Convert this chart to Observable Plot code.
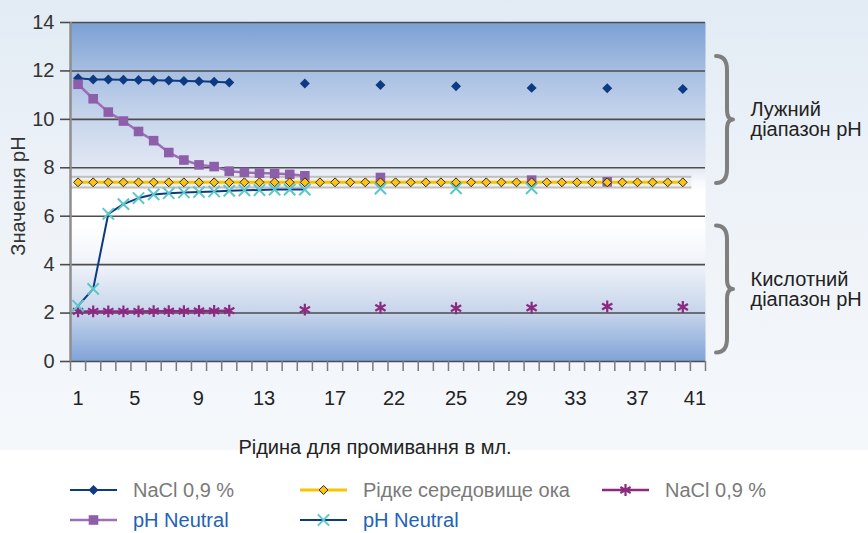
<!DOCTYPE html>
<html>
<head>
<meta charset="utf-8">
<script src="https://cdn.jsdelivr.net/npm/d3@7"></script>
<script src="https://cdn.jsdelivr.net/npm/@observablehq/plot@0.6"></script>
<style>
  html, body { margin: 0; padding: 0; }
  body { width: 868px; height: 533px; overflow: hidden; background: #ffffff; position: relative;
         font-family: "Liberation Sans", Arial, sans-serif; }
  #bg { position: absolute; left: 0; top: 0; width: 868px; height: 450px;
        background: linear-gradient(180deg, #e2ebf4 0%, #edf2f8 40%, #f5f8fb 100%); }
  #chart { position: absolute; left: 0; top: 0; }
  #legend { position: absolute; left: 70px; top: 475px; display: grid;
            grid-template-columns: 230px 302px auto; grid-auto-rows: 30px; }
  .item { display: flex; align-items: center; font-size: 20px; }
  .item svg { margin-right: 16px; flex: none; }
</style>
</head>
<body>
<div id="bg"></div>
<div id="chart"></div>
<div id="legend"></div>
<script>
// ---------- data ----------
const categoryCount = 42;
const xLabels  = ["1", "5", "9", "13", "17", "22", "25", "29", "33", "37", "41"];
const xLabelAt = [1, 4.75, 8.95, 13.3, 18, 21.9, 26, 30, 33.9, 38, 41.8];
const yTicks   = [0, 2, 4, 6, 8, 10, 12, 14];

const naclAlkX = [1, 2, 3, 4, 5, 6, 7, 8, 9, 10, 11, 16, 21, 26, 31, 36, 41];
const naclAlkY = [11.7, 11.65, 11.65, 11.64, 11.63, 11.62, 11.6, 11.58, 11.57, 11.55, 11.52, 11.48, 11.42, 11.37, 11.3, 11.28, 11.25];

const eyeX = [1, 2, 3, 4, 5, 6, 7, 8, 9, 10, 11, 12, 13, 14, 15, 16, 17, 18, 19, 20, 21,
              22, 23, 24, 25, 26, 27, 28, 29, 30, 31, 32, 33, 34, 35, 36, 37, 38, 39, 40, 41];
const eyeY = [7.4, 7.4, 7.4, 7.4, 7.4, 7.4, 7.4, 7.4, 7.4, 7.4, 7.4, 7.4, 7.4, 7.4, 7.4, 7.4, 7.4, 7.4, 7.4, 7.4, 7.4,
              7.4, 7.4, 7.4, 7.4, 7.4, 7.4, 7.4, 7.4, 7.4, 7.4, 7.4, 7.4, 7.4, 7.4, 7.4, 7.4, 7.4, 7.4, 7.4, 7.4];
const eyeBand = [7.19, 7.63];

const naclAcidX = [1, 2, 3, 4, 5, 6, 7, 8, 9, 10, 11, 16, 21, 26, 31, 36, 41];
const naclAcidY = [2.07, 2.07, 2.07, 2.07, 2.07, 2.08, 2.08, 2.08, 2.09, 2.09, 2.1, 2.14, 2.22, 2.2, 2.22, 2.27, 2.25];

const phNeutralAlkX = [1, 2, 3, 4, 5, 6, 7, 8, 9, 10, 11, 12, 13, 14, 15, 16, 21, 31, 36];
const phNeutralAlkY = [11.45, 10.85, 10.3, 9.93, 9.5, 9.12, 8.63, 8.32, 8.12, 8.05, 7.86, 7.81, 7.78, 7.76, 7.73, 7.67, 7.6, 7.49, 7.42];

const phNeutralAcidX = [1, 2, 3, 4, 5, 6, 7, 8, 9, 10, 11, 12, 13, 14, 15, 16, 21, 26, 31];
const phNeutralAcidY = [2.3, 3.0, 6.1, 6.5, 6.75, 6.9, 6.95, 6.98, 7.0, 7.02, 7.05, 7.07, 7.08, 7.1, 7.1, 7.1, 7.14, 7.15, 7.15];

const rangeLabels = ["Лужний\nдіапазон pH", "Кислотний\nдіапазон pH"];
const rangeFrom   = [7.35, 0.35];
const rangeTo     = [12.6, 5.6];

const xTitle = "Рідина для промивання в мл.";
const yTitle = "Значення pH";

// ---------- styles ----------
const series = [
  {name: "NaCl 0,9 %", xs: naclAlkX, ys: naclAlkY, line: "#0c3a83", lw: 2, sym: "diamond2", fill: "#0c3a83", mstroke: "none", r: 4.5, text: "#7a7a7a", col: 1, row: 1},
  {name: "Рідке середовище ока", xs: eyeX, ys: eyeY, line: "#f6c700", lw: 3, sym: "diamond2", fill: "#ffc40f", mstroke: "#2b2b2b", r: 4.0, text: "#7a7a7a", col: 2, row: 1},
  {name: "NaCl 0,9 %", xs: naclAcidX, ys: naclAcidY, line: "#8c2a7f", lw: 2.5, sym: "asterisk", fill: "none", mstroke: "#8c2a7f", r: 5.6, text: "#7a7a7a", col: 3, row: 1},
  {name: "pH Neutral", xs: phNeutralAlkX, ys: phNeutralAlkY, line: "#9c6fb6", lw: 2.5, sym: "square2", fill: "#8d5ea9", mstroke: "none", r: 6.1, text: "#1e63b6", col: 1, row: 2},
  {name: "pH Neutral", xs: phNeutralAcidX, ys: phNeutralAcidY, line: "#0c3a83", lw: 2, sym: "times", fill: "none", mstroke: "#5cc7c9", r: 5.2, text: "#1e63b6", col: 2, row: 2}
];
const markerWidth = s => s.sym === "diamond2" ? 1 : (s.sym === "asterisk" ? 2.2 : 2);

function rowsOf(s, k) {
  let seg = 0;
  return s.xs.map((x, i) => {
    if (i > 0 && x - s.xs[i - 1] > 1) seg++;
    return {x, y: s.ys[i], seg: k + "-" + seg};
  });
}
const tables = series.map((s, k) => rowsOf(s, k));

const lineMarks = [1, 0, 2, 3, 4].map(k =>
  Plot.lineY(tables[k], {x: "x", y: "y", z: "seg", stroke: series[k].line, strokeWidth: series[k].lw}));
const dotMarks = [0, 2, 3, 4, 1].map(k =>
  Plot.dot(tables[k], {x: "x", y: "y", symbol: series[k].sym, r: series[k].r,
    fill: series[k].fill, stroke: series[k].mstroke, strokeWidth: markerWidth(series[k])}));

const xBounds = d3.range(categoryCount + 1).map(i => i + 0.5);
const labelOf = new Map(xLabelAt.map((v, i) => [v, xLabels[i]]));
const ranges = rangeLabels.map((t, i) => ({t, from: rangeFrom[i], to: rangeTo[i]}));
const xMax = categoryCount + 0.5;

const chart = Plot.plot({
  width: 868, height: 462,
  marginLeft: 70, marginRight: 163, marginTop: 22, marginBottom: 101,
  x: {domain: [0.5, xMax], axis: null},
  y: {domain: [0, 14], axis: null},
  style: {background: "transparent", fontFamily: "'Liberation Sans', Arial, sans-serif", overflow: "visible"},
  marks: [
    Plot.frame({fill: "url(#plotbg)", stroke: "none"}),
    Plot.rect([eyeBand], {x1: d3.min(eyeX) - 0.5, x2: d3.max(eyeX) + 0.6, y1: d => d[0], y2: d => d[1], fill: "#efefef"}),
    Plot.ruleY(eyeBand, {x1: d3.min(eyeX) - 0.5, x2: d3.max(eyeX) + 0.6, stroke: "#bfbfbf", strokeWidth: 2}),
    Plot.gridY(yTicks, {stroke: "#4d4d4d", strokeOpacity: 1, strokeWidth: 1.6}),
    Plot.ruleX([0.5], {y1: 0, y2: 14, stroke: "#8e8e8e", strokeWidth: 2.5}),
    Plot.axisY(yTicks, {tickSize: 10, tickPadding: 6, stroke: "#4d4d4d", strokeWidth: 1.6, fill: "#333", fontSize: 20, label: null}),
    Plot.axisX(xBounds, {tickSize: 10, tickFormat: () => "", stroke: "#7a7a7a", strokeWidth: 1.5, label: null}),
    Plot.axisX(xLabelAt, {tickSize: 0, tickPadding: 29, tickFormat: d => labelOf.get(d), fill: "#222", fontSize: 20, label: null}),
    Plot.text([xTitle], {frameAnchor: "bottom", dx: -13, dy: 86, fontSize: 20, fill: "#222", lineAnchor: "middle"}),
    Plot.text([yTitle], {frameAnchor: "left", textAnchor: "middle", dx: -52, dy: 4, rotate: -90, fontSize: 20, fill: "#333", lineAnchor: "middle"}),
    ...lineMarks,
    ...dotMarks,
    Plot.text(ranges, {x: () => xMax, y: d => (d.from + d.to) / 2, dx: 45, text: "t", textAnchor: "start",
      lineAnchor: "middle", lineHeight: 1.0, fontSize: 20, fill: "#222"})
  ]
});

// gradient for the plot background
const svg = d3.select(chart);
const grad = svg.insert("defs", ":first-child").append("linearGradient")
  .attr("id", "plotbg").attr("x1", 0).attr("y1", 0).attr("x2", 0).attr("y2", 1);
[[0, "#7ba0d4"], [0.15, "#a9c0e2"], [0.29, "#c8d6ec"], [0.43, "#e2e8f3"], [0.47, "#f8f9fc"],
 [0.5, "#ffffff"], [0.6, "#ffffff"], [0.72, "#eef2f9"], [0.86, "#c5d3ea"], [1, "#7fa3d8"]]
  .forEach(([o, c]) => grad.append("stop").attr("offset", o).attr("stop-color", c));

// braces for the pH ranges
const ys = chart.scale("y"), xs = chart.scale("x");
const bx = xs.apply(xMax);
ranges.forEach(d => {
  const top = ys.apply(d.to), bot = ys.apply(d.from), mid = (top + bot) / 2;
  const x0 = bx + 11, x1 = bx + 22, x2 = bx + 28;
  const p = `M${x0},${top} Q${x1},${top} ${x1},${top + 14} L${x1},${mid - 10} Q${x1},${mid} ${x2},${mid}` +
            ` Q${x1},${mid} ${x1},${mid + 10} L${x1},${bot - 14} Q${x1},${bot} ${x0},${bot}`;
  svg.append("path").attr("d", p).attr("fill", "none").attr("stroke", "#7f7f7f")
    .attr("stroke-width", 4).attr("stroke-linecap", "round").attr("stroke-linejoin", "round");
});

document.getElementById("chart").append(chart);

// legend
const legend = d3.select("#legend");
const typeMap = {diamond2: d3.symbolDiamond2, square2: d3.symbolSquare2, times: d3.symbolTimes, asterisk: d3.symbolAsterisk};
series.forEach(s => {
  const item = legend.append("div").attr("class", "item")
    .style("grid-column", s.col).style("grid-row", s.row);
  const sv = item.append("svg").attr("width", 47).attr("height", 16);
  sv.append("line").attr("x1", 0).attr("x2", 47).attr("y1", 8).attr("y2", 8)
    .attr("stroke", s.line).attr("stroke-width", s.lw);
  sv.append("path").attr("transform", "translate(23.5,8)")
    .attr("d", d3.symbol(typeMap[s.sym], Math.PI * s.r * s.r)())
    .attr("fill", s.fill).attr("stroke", s.mstroke)
    .attr("stroke-width", markerWidth(s));
  item.append("span").text(s.name).style("color", s.text);
});
</script>
</body>
</html>
